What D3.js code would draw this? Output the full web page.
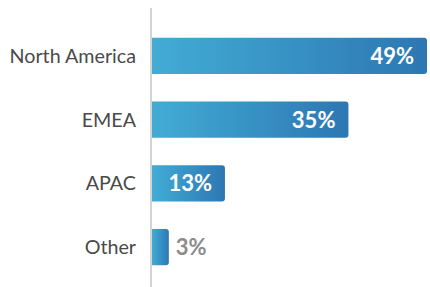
<!DOCTYPE html>
<meta charset="utf-8">
<style>
    body {
        margin: 0;
        background: #fff;
    }
    svg {
        font-family: Lato, "Open Sans", sans-serif;
    }
</style>
<body>
<script src="https://cdn.jsdelivr.net/npm/d3@7"></script>
<script>
    // data
    const regions = ["North America", "EMEA", "APAC", "Other"];
    const shares = [49, 35, 13, 3];

    const width = 430, height = 287;
    const margin = {top: 25, right: 3, bottom: 9, left: 152};

    const svg = d3.select("body").append("svg")
        .attr("width", width)
        .attr("height", height);

    // gradient, light cyan on the left to deeper blue on the right
    const grad = svg.append("defs").append("linearGradient")
        .attr("id", "barGrad")
        .attr("x1", "0%").attr("x2", "100%")
        .attr("y1", "0%").attr("y2", "0%");
    grad.append("stop").attr("offset", "0%").attr("stop-color", "#42acd5");
    grad.append("stop").attr("offset", "100%").attr("stop-color", "#2d77b3");

    const x = d3.scaleLinear()
        .domain([0, 49])
        .range([margin.left, width - margin.right]);

    const y = d3.scaleBand()
        .domain(regions)
        .range([margin.top, height - margin.bottom])
        .paddingInner(0.43)
        .paddingOuter(0.2);

    const data = regions.map((r, i) => ({region: r, value: shares[i]}));

    // bars with rounded right corners only
    function barPath(d) {
        const x0 = x(0), x1 = x(d.value), y0 = y(d.region), h = y.bandwidth(), r = 3;
        return "M" + x0 + "," + y0 +
            "H" + (x1 - r) +
            "Q" + x1 + "," + y0 + " " + x1 + "," + (y0 + r) +
            "V" + (y0 + h - r) +
            "Q" + x1 + "," + (y0 + h) + " " + (x1 - r) + "," + (y0 + h) +
            "H" + x0 + "Z";
    }

    svg.append("g").selectAll("path")
        .data(data)
        .enter().append("path")
        .attr("d", barPath)
        .attr("fill", "url(#barGrad)");

    // axis line
    svg.append("line")
        .attr("x1", x(0) - 1).attr("x2", x(0) - 1)
        .attr("y1", 8).attr("y2", height)
        .attr("stroke", "#c4c4c4")
        .attr("stroke-width", 1.5);

    // category labels
    svg.append("g").selectAll("text")
        .data(data)
        .enter().append("text")
        .attr("x", x(0) - 16)
        .attr("y", d => y(d.region) + y.bandwidth() / 2)
        .attr("dy", "0.35em")
        .attr("text-anchor", "end")
        .attr("fill", "#4a4a4a")
        .style("font-size", "19.7px")
        .text(d => d.region);

    // value labels, inside when the bar is wide enough
    svg.append("g").selectAll("text")
        .data(data)
        .enter().append("text")
        .attr("x", d => d.value > 5 ? x(d.value) - 13 : x(d.value) + 7)
        .attr("y", d => y(d.region) + y.bandwidth() / 2)
        .attr("dy", "0.36em")
        .attr("text-anchor", d => d.value > 5 ? "end" : "start")
        .attr("fill", d => d.value > 5 ? "#fff" : "#8c8c8c")
        .style("font-size", "22px")
        .style("font-weight", "bold")
        .text(d => d.value + "%");
</script>
</body>
